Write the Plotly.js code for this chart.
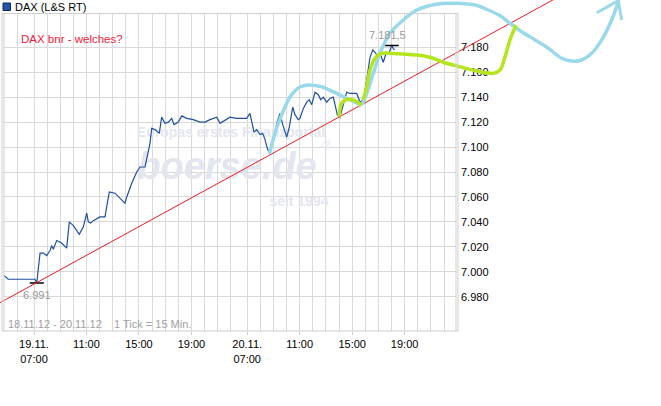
<!DOCTYPE html>
<html><head><meta charset="utf-8">
<script src="https://cdn.plot.ly/plotly-3.0.1.min.js"></script>
<style>html,body{margin:0;padding:0;background:#fff;}#chart{width:661px;height:406px;}</style>
</head><body><div id="chart"></div>
<script>
// ---------- DATA ----------
// x = trading-hour index: 0 = 19.11. 07:00, 16.25 = 20.11. 07:00 (night gap compressed), 15-min ticks
const hourIndex = [-2.29,-1.96,-1.07,0.08,0.21,0.46,0.71,0.97,1.22,1.35,1.47,1.73,2.11,2.49,2.69,3.00,3.45,3.76,4.02,4.14,4.32,4.52,5.03,5.41,5.54,5.74,6.17,6.55,6.93,7.07,7.45,7.83,8.08,8.46,8.84,8.97,9.22,9.55,9.73,9.98,10.24,10.50,10.67,11.00,11.26,11.64,12.14,12.65,13.03,13.41,13.93,14.18,14.69,14.94,15.45,16.21,16.46,16.77,16.97,17.23,17.43,17.61,17.78,17.95,18.24,18.50,18.75,18.96,19.26,19.46,19.72,19.89,20.14,20.27,20.53,20.79,20.98,21.17,21.42,21.67,21.85,22.05,22.31,22.56,22.81,22.94,23.12,23.32,23.57,23.83,24.09,24.60,24.85,25.10,25.36,25.61,25.82,25.99,26.24,26.42,26.62,26.83,27.08,27.26,27.39,27.48];
const dax = [6997,6994,6994,6994,6991,7015,7015,7013,7017,7021,7018,7025,7023,7019,7040,7037,7030,7036,7047,7040,7039,7041,7044,7044,7052,7064,7063,7059,7055,7060,7071,7080,7084,7084,7103,7115,7114,7111,7124,7119,7120,7123,7118,7120,7125,7123,7122,7120,7120,7122,7124,7119,7122,7124,7123,7123,7127,7112,7114,7110,7111,7106,7099,7095,7106,7119,7127,7118,7108,7116,7132,7126,7122,7123,7131,7136,7138,7134,7144,7142,7138,7140,7136,7139,7140,7134,7126,7124,7135,7144,7143,7143,7136,7138,7154,7172,7178,7176,7172,7174,7168,7175,7176,7181.5,7179,7178];

const xTickVals = [0,4,8,12,16.25,20.25,24.25,28.25];
const xTickText = ['19.11.<br>07:00','11:00','15:00','19:00','20.11.<br>07:00','11:00','15:00','19:00'];
const gridHours = [-1.25,0,1,2,3,4,5,6,7,8,9,10,11,12,13,14,15,16.25,17.25,18.25,19.25,20.25,21.25,22.25,23.25,24.25,25.25,26.25,27.25,28.25,29.25,30.25,31.25];
const yTickVals = [6980,7000,7020,7040,7060,7080,7100,7120,7140,7160,7180];

// hand-drawn annotations (same units: hour index / index points)
const trendH = [-2.97, 40.09];
const trendV = [6973.0, 7221.1];
const cyan1H = [17.95,18.22,18.52,18.75,19.13,19.51,19.89,20.27,20.88,21.42,21.95,22.79,23.83,24.98];
const cyan1V = [7095.0,7105.7,7116.1,7122.5,7132.1,7140.1,7145.0,7148.2,7149.8,7149.4,7148.2,7144.4,7139.1,7133.7];
const cyan2H = [24.98,25.36,25.86,26.37,27.13,28.15,29.04,30.03,31.10,32.09,33.61,34.63,35.65,36.28,37.17,38.19,39.20,40.22,40.98,41.75,42.51,43.27,44.03,44.54];
const cyan2V = [7133.7,7143.1,7159.1,7175.2,7191.2,7201.9,7209.1,7213.1,7215.1,7215.3,7213.9,7209.9,7204.5,7199.2,7192.5,7185.9,7179.2,7171.2,7169.0,7169.8,7175.2,7185.9,7201.9,7216.6];
const arrowH = [42.89,44.54,44.79];
const arrowV = [7207.7,7217.4,7201.9];
const lime1H = [23.27,23.38,23.70,24.34,24.98];
const lime1V = [7124.3,7133.7,7137.7,7137.7,7133.7];
const lime2H = [25.08,25.36,25.61,25.99,26.50,27.13,28.15,29.17,30.18,31.20,32.47,33.99,35.01,35.52,35.90,36.28,36.74];
const lime2V = [7137.7,7148.4,7161.8,7171.2,7175.2,7175.2,7174.6,7173.8,7172.0,7168.0,7164.4,7160.4,7159.1,7161.8,7172.5,7185.9,7197.9];

// ---------- LAYOUT GEOMETRY ----------
const W = 661, H = 406;
const box = {l: 4, r: 456, t: 13.5, b: 331};
const x0px = 34, pxPerHour = 13.12;      // h=0 at px 34
const yRefPx = 47.3, pxPerPt = 1.247;    // 7180 at px 47.3
const hAt = px => (px - x0px) / pxPerHour;
const vAt = py => 7180 - (py - yRefPx) / pxPerPt;
const px2x = px => px / W, py2y = py => 1 - py / H;

function fmtDE(v){
  const i = Math.floor(v), f = Math.round((v - i) * 10);
  let s = String(i).replace(/\B(?=(\d{3})+(?!\d))/g, '.');
  if (f > 0) s += ',' + f;
  return s;
}
const yTickText = yTickVals.map(v => (v/1000).toFixed(3));

let iMin = 0, iMax = 0;
dax.forEach((v,i)=>{ if(v<dax[iMin]) iMin=i; if(v>dax[iMax]) iMax=i; });

const FONT = 'Liberation Sans, Arial, sans-serif';
const wm = '#e4e6ef';

const traces = [
  // watermark (below data)
  {x:[hAt(231)], y:[vAt(133)], mode:'text', text:['Europas erstes Finanzportal'], textfont:{family:FONT,size:14,color:wm,weight:'bold'}, xaxis:'x', yaxis:'y', hoverinfo:'skip', showlegend:false},
  {x:[hAt(227)], y:[vAt(169)], mode:'text', text:['boerse.de'], textfont:{family:FONT,size:38,color:wm,weight:'bold',style:'italic'}, xaxis:'x', yaxis:'y', hoverinfo:'skip', showlegend:false},
  {x:[hAt(327)], y:[vAt(147)], mode:'text', text:['®'], textfont:{family:FONT,size:12,color:wm}, xaxis:'x', yaxis:'y', hoverinfo:'skip', showlegend:false},
  {x:[hAt(299)], y:[vAt(202)], mode:'text', text:['seit 1994'], textfont:{family:FONT,size:14,color:wm,weight:'bold'}, xaxis:'x', yaxis:'y', hoverinfo:'skip', showlegend:false},
  // DAX line
  {x:hourIndex, y:dax, mode:'lines', line:{color:'#1f4f9f', width:1.2}, xaxis:'x', yaxis:'y', showlegend:false},
  // min / max markers
  {x:[hourIndex[iMin], hourIndex[iMax]], y:[dax[iMin], dax[iMax]], mode:'markers', marker:{symbol:'line-ew', size:10, line:{color:'#000', width:1.5}}, xaxis:'x', yaxis:'y', showlegend:false},
  // hand drawn (full-page overlay axes)
  {x:trendH, y:trendV, mode:'lines', line:{color:'#ed1c24', width:1}, xaxis:'x2', yaxis:'y2', showlegend:false},
  {x:cyan1H, y:cyan1V, mode:'lines', line:{color:'#99d9ea', width:3.5, shape:'spline'}, xaxis:'x2', yaxis:'y2', showlegend:false},
  {x:cyan2H, y:cyan2V, mode:'lines', line:{color:'#99d9ea', width:3.5, shape:'spline'}, xaxis:'x2', yaxis:'y2', showlegend:false},
  {x:arrowH, y:arrowV, mode:'lines', line:{color:'#99d9ea', width:3}, xaxis:'x2', yaxis:'y2', showlegend:false},
  {x:lime1H, y:lime1V, mode:'lines', line:{color:'#b5e61d', width:3.5, shape:'spline'}, xaxis:'x2', yaxis:'y2', showlegend:false},
  {x:lime2H, y:lime2V, mode:'lines', line:{color:'#b5e61d', width:3.5, shape:'spline'}, xaxis:'x2', yaxis:'y2', showlegend:false}
];

const grid = '#d9d9d9', frame = '#cfcfcf';
const layout = {
  width: W, height: H,
  margin: {l:0, r:0, t:0, b:0},
  paper_bgcolor: '#fff', plot_bgcolor: 'rgba(0,0,0,0)',
  font: {family: FONT, size: 11, color: '#000'},
  showlegend: false,
  xaxis: {
    domain: [px2x(box.l), px2x(box.r)], range: [hAt(box.l), hAt(box.r)], anchor: 'y',
    tickmode: 'array', tickvals: xTickVals, ticktext: xTickText,
    ticks: 'outside', ticklen: 3, tickcolor: frame, showgrid: true, gridcolor: grid, gridwidth: 1,
    minor: {tickmode: 'array', tickvals: gridHours, showgrid: true, gridcolor: grid, gridwidth: 1, ticks: ''},
    zeroline: false, showline: false, tickfont: {family: FONT, size: 11, color: '#000'}
  },
  yaxis: {
    domain: [py2y(box.b), py2y(box.t)], range: [vAt(box.b), vAt(box.t)], anchor: 'x', side: 'right',
    tickmode: 'array', tickvals: yTickVals, ticktext: yTickText, ticks: '', ticklabelstandoff: 4,
    showgrid: true, gridcolor: grid, gridwidth: 1, zeroline: false, showline: false,
    tickfont: {family: FONT, size: 11, color: '#000'}
  },
  xaxis2: {domain: [0,1], range: [hAt(0), hAt(W)], anchor: 'y2', visible: false, showgrid: false, zeroline: false},
  yaxis2: {domain: [0,1], range: [vAt(H), vAt(0)], anchor: 'x2', visible: false, showgrid: false, zeroline: false},
  shapes: [
    // plot frame (double vertical borders)
    {type:'line', xref:'paper', yref:'paper', x0:px2x(2), x1:px2x(458), y0:py2y(13.5), y1:py2y(13.5), line:{color:frame, width:1}},
    {type:'line', xref:'paper', yref:'paper', x0:px2x(2), x1:px2x(458), y0:py2y(331), y1:py2y(331), line:{color:frame, width:1}},
    {type:'line', xref:'paper', yref:'paper', x0:px2x(2), x1:px2x(2), y0:py2y(13.5), y1:py2y(331), line:{color:frame, width:1}},
    {type:'line', xref:'paper', yref:'paper', x0:px2x(4), x1:px2x(4), y0:py2y(13.5), y1:py2y(331), line:{color:frame, width:1}},
    {type:'line', xref:'paper', yref:'paper', x0:px2x(456), x1:px2x(456), y0:py2y(13.5), y1:py2y(331), line:{color:frame, width:1}},
    {type:'line', xref:'paper', yref:'paper', x0:px2x(458), x1:px2x(458), y0:py2y(13.5), y1:py2y(331), line:{color:frame, width:1}},
    // legend swatch
    {type:'rect', xref:'paper', yref:'paper', x0:px2x(3), x1:px2x(10.5), y0:py2y(10.5), y1:py2y(3), fillcolor:'#2455a4', line:{color:'#0d2a5c', width:1}}
  ],
  annotations: [
    {xref:'paper', yref:'paper', x:px2x(13), y:py2y(7), xanchor:'left', yanchor:'middle', showarrow:false, text:'DAX (L&amp;S RT)', font:{family:FONT, size:11, color:'#000'}},
    {xref:'paper', yref:'paper', x:px2x(18.5), y:py2y(38.5), xanchor:'left', yanchor:'middle', showarrow:false, text:'DAX bnr - welches?', font:{family:FONT, size:11.5, color:'#f5203c'}},
    {xref:'paper', yref:'paper', x:px2x(5.5), y:py2y(323.5), xanchor:'left', yanchor:'middle', showarrow:false, text:'18.11.12 - 20.11.12', font:{family:FONT, size:11, color:'#a0a0a0'}},
    {xref:'paper', yref:'paper', x:px2x(112), y:py2y(323.5), xanchor:'left', yanchor:'middle', showarrow:false, text:'1 Tick = 15 Min.', font:{family:FONT, size:11, color:'#a0a0a0'}},
    {xref:'x', yref:'y', x:hourIndex[iMin], y:dax[iMin], yshift:-12, showarrow:false, text:fmtDE(dax[iMin]), font:{family:FONT, size:11, color:'#999'}},
    {xref:'x', yref:'y', x:hourIndex[iMax], y:dax[iMax], xshift:-4, yshift:10, showarrow:false, text:fmtDE(dax[iMax]), font:{family:FONT, size:11, color:'#999'}}
  ]
};

Plotly.newPlot('chart', traces, layout, {staticPlot:true, displayModeBar:false});
</script>
</body></html>
